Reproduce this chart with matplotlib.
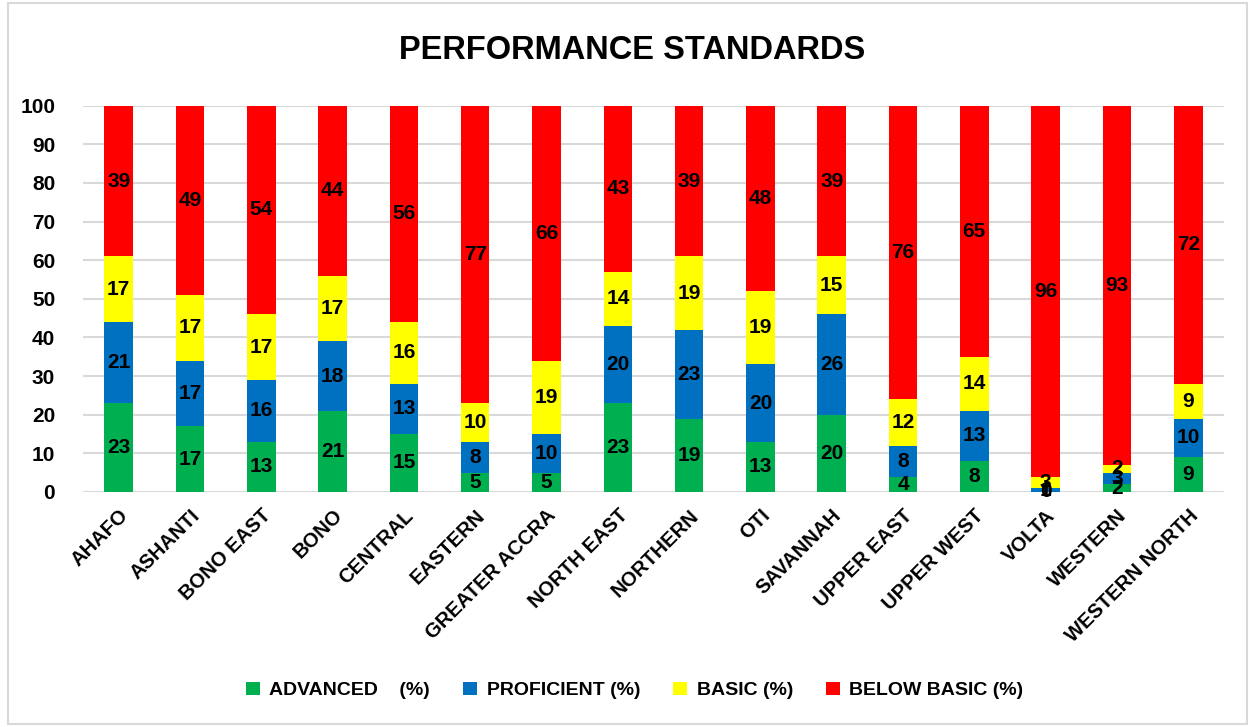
import matplotlib.pyplot as plt
from matplotlib.patches import Rectangle
import numpy as np

plt.rcParams['font.family'] = ['Liberation Sans', 'DejaVu Sans']
plt.rcParams['font.weight'] = 'bold'

regions = ["AHAFO", "ASHANTI", "BONO EAST", "BONO", "CENTRAL", "EASTERN",
           "GREATER ACCRA", "NORTH EAST", "NORTHERN", "OTI", "SAVANNAH",
           "UPPER EAST", "UPPER WEST", "VOLTA", "WESTERN", "WESTERN NORTH"]
advanced = [23, 17, 13, 21, 15, 5, 5, 23, 19, 13, 20, 4, 8, 0, 2, 9]
proficient = [21, 17, 16, 18, 13, 8, 10, 20, 23, 20, 26, 8, 13, 1, 3, 10]
basic = [17, 17, 17, 17, 16, 10, 19, 14, 19, 19, 15, 12, 14, 3, 2, 9]
below_basic = [39, 49, 54, 44, 56, 77, 66, 43, 39, 48, 39, 76, 65, 96, 93, 72]

series = [("ADVANCED    (%)", advanced, "#00b050"),
          ("PROFICIENT (%)", proficient, "#0070c0"),
          ("BASIC (%)", basic, "#ffff00"),
          ("BELOW BASIC (%)", below_basic, "#ff0000")]

fig = plt.figure(figsize=(12.52, 7.27), dpi=100)
ax = fig.add_axes([0.0663, 0.3233, 0.9113, 0.5313])

x = np.arange(len(regions))
bottom = np.zeros(len(regions))
for name, vals, col in series:
    vals = np.array(vals, dtype=float)
    ax.bar(x, vals, 0.4, bottom=bottom, color=col, label=name, zorder=3)
    for xi, b, v in zip(x, bottom, vals):
        ax.text(xi, b + v / 2, f"{int(v)}", ha="center", va="center",
                fontsize=15, fontweight="bold", color="black", zorder=4)
    bottom += vals

ax.set_xlim(-0.5, len(regions) - 0.5)
ax.set_ylim(0, 100)
ax.set_yticks(range(0, 101, 10))
ax.yaxis.grid(True, color="#d9d9d9", linewidth=1.5, zorder=0)
ax.set_axisbelow(True)
for s in ax.spines.values():
    s.set_visible(False)
ax.tick_params(axis="y", length=0, labelsize=15, pad=20)
ax.set_xticks(x)
ax.set_xticklabels(regions, rotation=45, ha="right", rotation_mode="anchor",
                   fontsize=14.5, fontweight="bold")
ax.tick_params(axis="x", length=0, pad=10)

fig.text(0.505, 0.93, "PERFORMANCE STANDARDS", ha="center", va="center",
         fontsize=23.5, fontweight="bold")

leg = fig.legend(loc="center", bbox_to_anchor=(0.507, 0.05), ncol=4,
                 frameon=False, fontsize=14, handlelength=0.7,
                 handleheight=0.7, columnspacing=1.7, handletextpad=0.5)

fig.patches.append(Rectangle((0.006, 0.004), 0.99, 0.992, transform=fig.transFigure,
                             fill=False, edgecolor="#d9d9d9", linewidth=1.5))

fig.savefig("out.png", dpi=100)
